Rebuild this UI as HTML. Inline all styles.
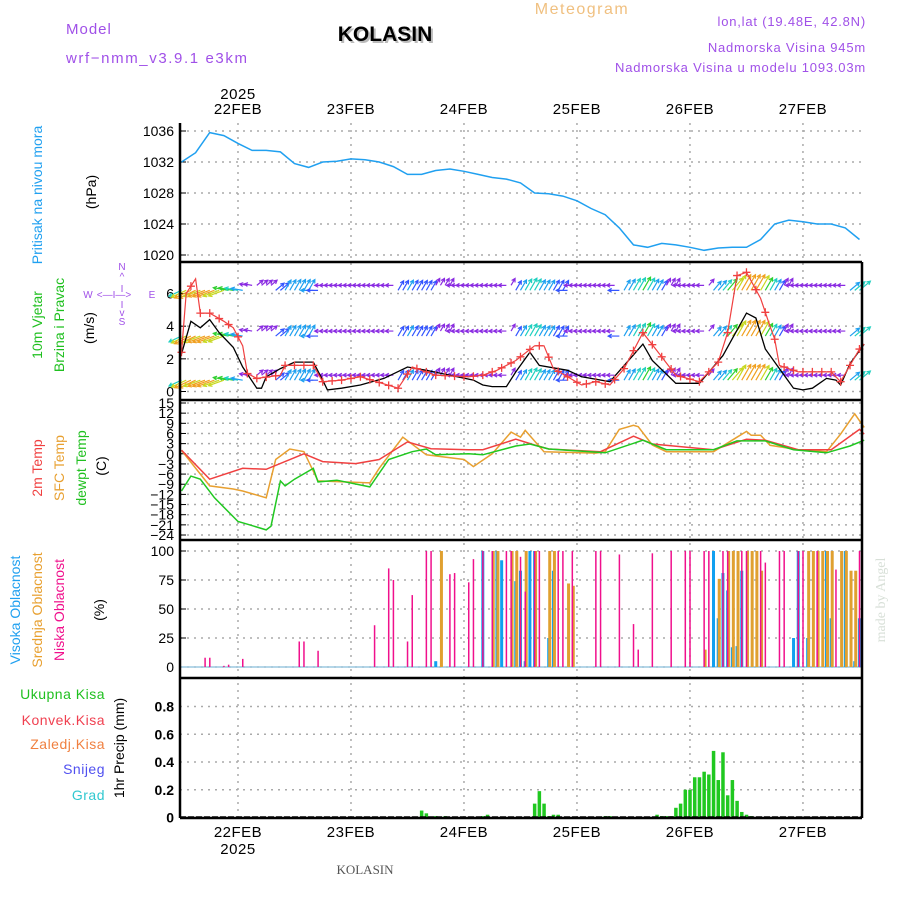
<!DOCTYPE html>
<html><head><meta charset="utf-8"><style>
html,body{margin:0;padding:0;background:#fff;}
svg{display:block;font-family:"Liberation Sans",sans-serif;}
</style></head><body>
<svg id="chart" width="900" height="900" viewBox="0 0 900 900" xmlns="http://www.w3.org/2000/svg">
<g>
<text x="66" y="34" fill="#a050e8" font-size="15" letter-spacing="1">Model</text>
<text x="66" y="63" fill="#a050e8" font-size="15" letter-spacing="1.6">wrf−nmm_v3.9.1 e3km</text>
<text x="387" y="43" fill="#bbb" font-size="21" font-weight="bold" text-anchor="middle">KOLASIN</text>
<text x="385" y="41" fill="#000" font-size="21" font-weight="bold" text-anchor="middle">KOLASIN</text>
<text x="582" y="14" fill="#f0c080" font-size="16" letter-spacing="1.5" text-anchor="middle">Meteogram</text>
<text x="866" y="26" fill="#a050e8" font-size="13" letter-spacing="0.8" text-anchor="end">lon,lat (19.48E, 42.8N)</text>
<text x="866" y="52" fill="#a050e8" font-size="13" letter-spacing="0.8" text-anchor="end">Nadmorska Visina 945m</text>
<text x="866" y="72" fill="#a050e8" font-size="13" letter-spacing="0.8" text-anchor="end">Nadmorska Visina u modelu 1093.03m</text>
</g>
<g font-size="14">
<text transform="translate(42,195) rotate(-90)" text-anchor="middle" fill="#20a0f0">Pritisak na nivou mora</text>
<text transform="translate(96,192) rotate(-90)" text-anchor="middle" fill="#000">(hPa)</text>
<text transform="translate(42,325) rotate(-90)" text-anchor="middle" fill="#20c020">10m Vjetar</text>
<text transform="translate(64,325) rotate(-90)" text-anchor="middle" fill="#20c020">Brzina i Pravac</text>
<text transform="translate(94,328) rotate(-90)" text-anchor="middle" fill="#000">(m/s)</text>
<g fill="#a050e8" font-size="10">
<text x="122" y="270" text-anchor="middle">N</text><text x="122" y="280" text-anchor="middle">^</text><text x="122" y="292" text-anchor="middle">I</text>
<text x="88" y="298" text-anchor="middle">W</text><text x="114" y="298" text-anchor="middle">&lt;—I—&gt;</text><text x="152" y="298" text-anchor="middle">E</text>
<text x="122" y="308" text-anchor="middle">I</text><text x="122" y="316" text-anchor="middle">v</text><text x="122" y="325" text-anchor="middle">S</text>
</g>
<text transform="translate(42,468) rotate(-90)" text-anchor="middle" fill="#f04040">2m Temp</text>
<text transform="translate(64,468) rotate(-90)" text-anchor="middle" fill="#e8a030">SFC Temp</text>
<text transform="translate(86,468) rotate(-90)" text-anchor="middle" fill="#20c020">dewpt Temp</text>
<text transform="translate(106,466) rotate(-90)" text-anchor="middle" fill="#000">(C)</text>
<text transform="translate(20,610) rotate(-90)" text-anchor="middle" fill="#20a0f0">Visoka Oblacnost</text>
<text transform="translate(42,610) rotate(-90)" text-anchor="middle" fill="#e8a030">Srednja Oblacnost</text>
<text transform="translate(64,610) rotate(-90)" text-anchor="middle" fill="#f0108c">Niska Oblacnost</text>
<text transform="translate(104,610) rotate(-90)" text-anchor="middle" fill="#000">(%)</text>
<g font-size="14" text-anchor="end" letter-spacing="0.5">
<text x="105" y="699" fill="#20c020">Ukupna  Kisa</text>
<text x="105" y="725" fill="#f04050">Konvek.Kisa</text>
<text x="105" y="749" fill="#f08040">Zaledj.Kisa</text>
<text x="105" y="774" fill="#5050f0">Snijeg</text>
<text x="105" y="800" fill="#30c8d0">Grad</text>
</g>
<text transform="translate(124,748) rotate(-90)" text-anchor="middle" fill="#000">1hr Precip (mm)</text>
</g>
<text transform="translate(885,600) rotate(-90)" text-anchor="middle" fill="#d8e0d8" font-family="Liberation Serif,serif" font-size="14">made by Angel</text>
<text x="365" y="874" text-anchor="middle" fill="#555" font-family="Liberation Serif,serif" font-size="13">KOLASIN</text>
<g id="plot"></g>
</svg>
<script>
// ---- data (hours from 21FEB 12Z) ----
const dayLabels = ["22FEB","23FEB","24FEB","25FEB","26FEB","27FEB"];
const pressure = [1032,1033.2,1035.8,1035.4,1034.4,1033.5,1033.5,1033.3,1031.8,1031.3,1032,1032.1,1032.4,1032.3,1032,1031.4,1030.4,1030.4,1030.9,1031.1,1030.8,1030.4,1030,1029.8,1029.3,1028,1027.9,1027.6,1027,1026,1025.2,1023.5,1021.3,1021,1021.5,1021.3,1021,1020.6,1020.9,1021,1021,1022,1024,1024.5,1024.3,1024,1024,1023.5,1022];
const pressureTicks = [1020,1024,1028,1032,1036];
const windHours = [0,2,4,6,8,11,13,16,17,18,21,24,28,30,31,34,38,43,48,52,57,62,64,66,69,71,74,76,82,85,91,98,100,105,110,115,120,122,124,126,127,130,132,134,137,139,140,142,145];
const windSpeed = [2.3,4.3,3.9,4.4,3.6,2.7,1.5,0.2,0.2,0.9,1.4,1.8,1.8,0.7,0.1,0.2,0.4,0.8,1.5,1.3,1,0.7,0.4,0.3,0.3,1.2,2.4,1.6,1.3,0.9,0.6,2.9,1.9,0.5,0.5,2.2,4.8,4.5,2.6,1.8,1.4,0.2,0.1,0.2,0.8,0.7,0.4,1.7,2.9];
const gustHours = [0,1,3,4,6,9,11,13,14,16,21,22,28,30,34,38,46,49,54,61,64,67,71,75,77,79,85,88,91,94,98,101,105,110,114,116,118,120,123,125,126,127,131,138,140,144,145];
const gustSpeed = [2.4,6,6.9,4.8,4.8,4.3,3.9,2.8,1.1,0.8,1,1.6,1.6,0.6,0.7,0.9,0.2,1.5,1,0.9,1,1.3,1.9,2.8,2.8,1.4,0.4,0.6,0.4,1.4,3.6,2.5,1,0.6,1.8,3.6,7.1,7.3,5.7,4,3.2,1.6,1.2,1.2,0.6,2.6,2.9];
const windDirHours = [0,6,12,18,24,30,36,42,48,54,60,66,72,78,84,90,96,102,108,114,120,126,132,138,144];
const windDir = [205,200,170,40,60,180,180,180,60,60,180,180,60,60,180,180,60,60,180,50,60,60,180,180,40];
const windRows = [6.5,3.7,1.0];
const speedTicks = [0,2,4,6];
const t2Hours = [0,6,13,18,26,30,37,42,48,53,61,64,71,75,78,89,96,100,113,120,124,131,138,144,145];
const t2 = [1.1,-7.5,-4.3,-4.6,0,-2.3,-2.9,-1.7,3.5,1.5,1.2,1.2,4.3,2.6,1.4,0.6,5.2,2.9,1.2,4.3,4,1.2,1.2,7.2,5.8];
const tsHours = [0,6,11,13,18,20,23,26,29,40,42,47,52,60,62,66,70,72,73,77,88,90,93,96,97,100,103,113,118,120,121,123,125,131,137,140,143,145];
const tsfc = [1,-9.5,-10.4,-11,-13,-1.7,1.4,0.6,-8,-8.6,-4.3,4.9,-0.3,-1.7,-3.8,0,6.4,4.9,6.9,0.6,0.2,0.6,7.2,8.4,8,2.6,0.6,0.6,4.9,6.6,5.5,5.5,2.5,1.2,0.6,5.8,11.8,7.8];
const tdHours = [0,2,4,7,12,14,18,19,21,22,24,28,29,33,40,44,49,52,54,61,64,71,74,78,90,98,103,113,118,124,130,137,142,145];
const tdew = [-11,-6.6,-7.5,-13,-20,-20.8,-22.5,-21.4,-8,-9.5,-7.5,-4.3,-8.3,-7.8,-9.8,-1.7,0.6,1.4,-0.3,0,-0.3,2.3,2.9,1.4,0.3,4,1.2,1.2,3.8,3.8,1.2,0.3,2.3,4];
const tempTicks = [15,12,9,6,3,0,-3,-6,-9,-12,-15,-18,-21,-24];
const lowHours = [5,6,9,10,13,25,26,29,41,44,45,48,49,52,53,57,58,61,62,64,66,69,70,72,73,75,76,80,81,83,88,89,93,96,97,100,104,107,108,111,112,115,116,119,120,123,124,127,128,131,132,135,139,144];
const lowCloud = [8,8,1,2,7,22,22,14,36,85,75,22,62,100,100,80,81,73,93,100,100,100,100,95,65,100,100,100,100,100,100,100,97,37,15,98,100,100,100,100,100,100,100,100,100,100,90,100,100,100,100,100,84,100];
const midHours = [55,66,67,70,71,73,75,78,79,82,83,111,114,116,117,118,120,121,122,123,133,134,135,136,137,138,140,141,142,143];
const midCloud = [100,100,100,100,100,100,100,100,100,72,70,15,76,100,100,100,100,100,100,83,100,100,100,100,100,100,100,100,83,83];
const highHours = [54,64,67,68,71,72,73,74,75,78,79,113,114,115,116,117,118,119,130,131,133,137,138,141,143,144];
const highCloud = [5,100,100,92,74,83,5,100,100,25,83,100,42,81,66,17,18,83,25,100,25,100,42,100,5,42];
const cloudTicks = [0,25,50,75,100];
const precipHours = [51,52,54,56,64,65,75,76,77,78,79,80,90,91,101,102,103,104,105,106,107,108,109,110,111,112,113,114,115,116,117,118,119,120,121,122,123];
const precip = [0.05,0.03,0.01,0.01,0.01,0.02,0.1,0.19,0.1,0.01,0.02,0.02,0.01,0.01,0.02,0.01,0.01,0.01,0.07,0.1,0.2,0.2,0.29,0.29,0.33,0.31,0.48,0.27,0.47,0.16,0.27,0.12,0.04,0.02,0.01,0,0];
const precipTicks = ["0","0.2","0.4","0.6","0.8"];
// ---- scales ----
const X = h => 181.5 + h*4.708;
const YP = p => 131 + (1036-p)*7.75;
const YW = v => 391.5 - v*16.33;
const YT = t => 403 + (15-t)*3.385;
const YC = c => 667 - c*1.16;
const YR = r => 817.5 - r*138.75;
const L=180, R=862;
const NS="http://www.w3.org/2000/svg";
const plot=document.getElementById('plot');
function mk(tag, attrs, parent){const e=document.createElementNS(NS,tag);for(const k in attrs)e.setAttribute(k,attrs[k]);(parent||plot).appendChild(e);return e;}
function txt(x,y,s,attrs,parent){const e=mk('text',Object.assign({x:x,y:y},attrs),parent);e.textContent=s;return e;}
// grids
const grid=mk('g',{stroke:'#aaa','stroke-width':1.5,'stroke-dasharray':'2,5'});


dayLabels.forEach((d,i)=>{mk('line',{x1:X(12+24*i),x2:X(12+24*i),y1:123,y2:818},grid);});
pressureTicks.forEach(p=>mk('line',{x1:L,x2:R,y1:YP(p),y2:YP(p)},grid));
speedTicks.forEach(p=>mk('line',{x1:L,x2:R,y1:YW(p),y2:YW(p)},grid));
tempTicks.forEach(p=>mk('line',{x1:L,x2:R,y1:YT(p),y2:YT(p)},grid));
cloudTicks.forEach(p=>mk('line',{x1:L,x2:R,y1:YC(p),y2:YC(p)},grid));
precipTicks.forEach(p=>mk('line',{x1:L,x2:R,y1:YR(+p),y2:YR(+p)},grid));
// tick labels
const tl=mk('g',{'font-size':14,'text-anchor':'end',fill:'#000'});


pressureTicks.forEach(p=>{txt(174,YP(p)+5,String(p),{},tl);mk('line',{x1:L,x2:L+6,y1:YP(p),y2:YP(p),stroke:'#000'},tl);});
speedTicks.forEach(p=>{txt(174,YW(p)+5,String(p),{},tl);mk('line',{x1:L,x2:L+6,y1:YW(p),y2:YW(p),stroke:'#000'},tl);});
tempTicks.forEach(p=>{txt(174,YT(p)+5,String(p).replace('-','−'),{},tl);mk('line',{x1:L,x2:L+6,y1:YT(p),y2:YT(p),stroke:'#000'},tl);});
cloudTicks.forEach(p=>{txt(174,YC(p)+5,String(p),{},tl);mk('line',{x1:L,x2:L+6,y1:YC(p),y2:YC(p),stroke:'#000'},tl);});
precipTicks.forEach(p=>{txt(174,YR(+p)+5,p,{'font-weight':'bold'},tl);});
// day labels
dayLabels.forEach((d,i)=>{
  txt(X(12+24*i),114,d,{'font-size':15,'text-anchor':'middle','letter-spacing':'0.5'},tl);
  txt(X(12+24*i),837,d,{'font-size':15,'text-anchor':'middle','letter-spacing':'0.5'},tl);
});
txt(X(12),99,"2025",{'font-size':15,'text-anchor':'middle','letter-spacing':'0.5'},tl);
txt(X(12),854,"2025",{'font-size':15,'text-anchor':'middle','letter-spacing':'0.5'},tl);
function path(hs,vs,yf){return hs.map((h,i)=>(i?'L':'M')+X(h).toFixed(1)+','+yf(vs[i]).toFixed(1)).join('');}
// pressure
const pl=mk('path',{d:path(pressure.map((_,i)=>i*3),pressure,YP),fill:'none',stroke:'#20a0f0','stroke-width':1.5});


// wind arrows
function interp(hs,vs,h){if(h<=hs[0])return vs[0];for(let i=1;i<hs.length;i++){if(h<=hs[i]){const t=(h-hs[i-1])/(hs[i]-hs[i-1]);return vs[i-1]+t*(vs[i]-vs[i-1]);}}return vs[vs.length-1];}
function nearest(hs,vs,h){let b=0;hs.forEach((x,i)=>{if(Math.abs(x-h)<Math.abs(hs[b]-h))b=i;});return vs[b];}
function scol(v){return v<1.2?'#8a2be2':v<1.5?'#3355ff':v<2?'#1ea0f0':v<2.6?'#20d0c0':v<3.2?'#30d030':v<4?'#c8d820':'#f0a020';}
const wa=mk('g',{'stroke-width':1.2,fill:'none'});


windRows.forEach(r=>{
  for(let h=0;h<=144;h++){
    const v=interp(windHours,windSpeed,h), d=nearest(windDirHours,windDir,h)*Math.PI/180;
    const len=v<1.2?8:Math.min(18,8+v*2.5);
    const x0=X(h), y0=YW(r)+(v<1.2?0:5), x1=x0+len*Math.cos(d), y1=y0-len*Math.sin(d);
    const c=scol(v);
    const hx=x1-4*Math.cos(d-0.5), hy=y1+4*Math.sin(d-0.5), gx=x1-4*Math.cos(d+0.5), gy=y1+4*Math.sin(d+0.5);
    mk('path',{d:`M${x0},${y0}L${x1},${y1}M${hx},${hy}L${x1},${y1}L${gx},${gy}`,stroke:c},wa);
  }
});
const bl=mk('path',{d:path(windHours,windSpeed,YW),fill:'none',stroke:'#000','stroke-width':1.3});


const gl=mk('path',{d:path(gustHours,gustSpeed,YW),fill:'none',stroke:'#f04040','stroke-width':1.2});


const gm=mk('g',{stroke:'#f04040','stroke-width':1.3});


for(let h=0;h<=144;h+=2){const x=X(h),y=YW(interp(gustHours,gustSpeed,h));mk('path',{d:`M${x-4},${y}h8M${x},${y-4}v8`},gm);}
// temperatures
[[tsHours,tsfc,'#e8a030','temp-sfc-line'],[t2Hours,t2,'#f04040','temp-2m-line'],[tdHours,tdew,'#20c820','dewpoint-line']].forEach(s=>{
  const e=mk('path',{d:path(s[0],s[1],YT),fill:'none',stroke:s[2],'stroke-width':1.5});
  
  
});
// clouds
mk('line',{x1:L,x2:R,y1:667,y2:667,stroke:'#9cc8e0','stroke-width':1.5});
const cg=mk('g',{});


highHours.forEach((h,i)=>{const e=mk('rect',{x:X(h)-1.5,y:YC(highCloud[i]),width:3,height:667-YC(highCloud[i]),fill:'#10a0f0'},cg);});
midHours.forEach((h,i)=>{const e=mk('rect',{x:X(h)-0.5,y:YC(midCloud[i]),width:3,height:667-YC(midCloud[i]),fill:'#e0a030'},cg);});
lowHours.forEach((h,i)=>{const e=mk('rect',{x:X(h)-0.7,y:YC(lowCloud[i]),width:1.5,height:667-YC(lowCloud[i]),fill:'#f0108c'},cg);});
// precip
const pg=mk('g',{});


precipHours.forEach((h,i)=>{if(precip[i]<=0)return;const e=mk('rect',{x:X(h)-1.7,y:YR(precip[i]),width:3.5,height:817.5-YR(precip[i]),fill:'#20c820'},pg);});
// frames
const fr=mk('g',{stroke:'#000','stroke-width':2.5,fill:'none'});


mk('line',{x1:L,x2:L,y1:123,y2:818},fr);
mk('line',{x1:R,x2:R,y1:262,y2:818},fr);
[262,400,540,678,818].forEach(y=>mk('line',{x1:L,x2:R,y1:y,y2:y},fr));
mk('line',{x1:L,x2:R,y1:817,y2:817,stroke:'#000','stroke-width':1.5,'stroke-dasharray':'6,2'});
</script>
</body></html>
